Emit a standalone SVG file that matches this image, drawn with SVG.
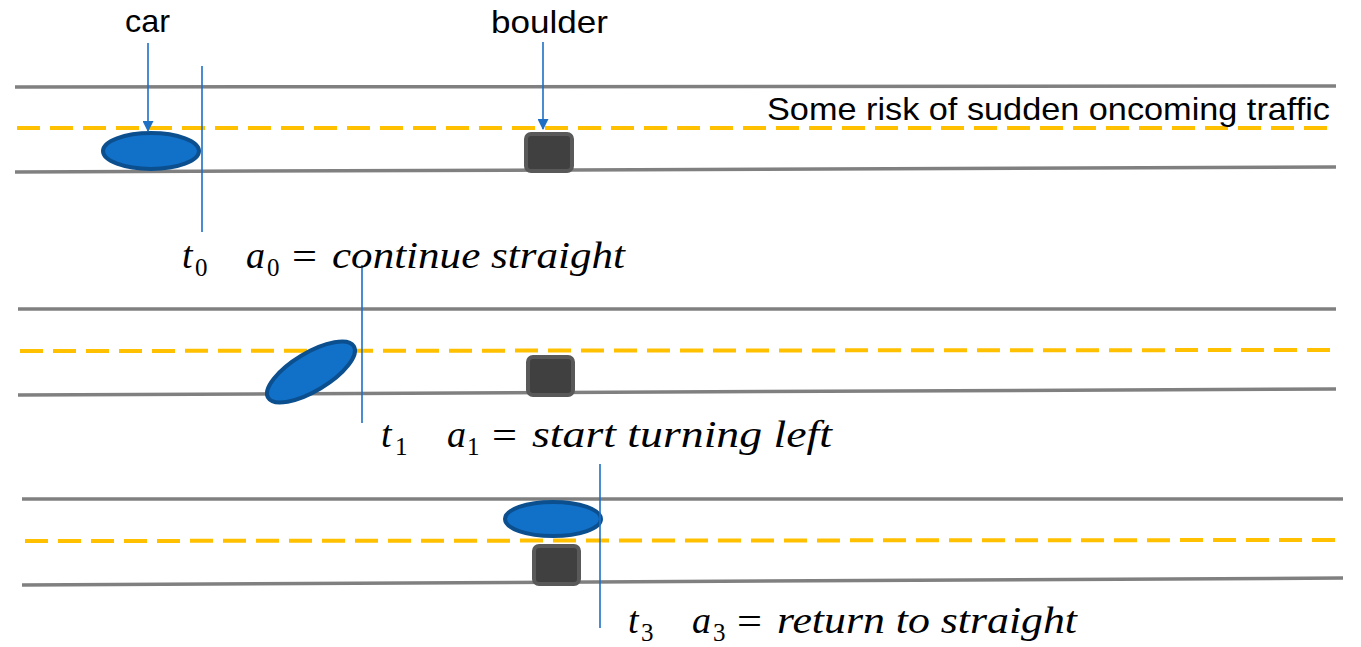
<svg xmlns="http://www.w3.org/2000/svg" width="1361" height="647" viewBox="0 0 1361 647">
<style>
.road{stroke:#808080;stroke-width:3.5;fill:none}
.lane{stroke:#FFC000;stroke-width:4;stroke-dasharray:23 10;fill:none}
.car{fill:#1170C8;stroke:#0B4F8F;stroke-width:4}
.boulder{fill:#404040;stroke:#595959;stroke-width:4}
.tline{stroke:#1F6FC4;stroke-width:1.6;fill:none}
.arrow{stroke:#1F6FC4;stroke-width:1.6;fill:none;marker-end:url(#ah)}
.lbl{font-family:"Liberation Sans","Open Sans",sans-serif;font-size:32px;fill:#000}
.mi{font-family:"Liberation Serif","DejaVu Serif",serif;font-style:italic;font-size:38px;fill:#000}
.sub{font-family:"Liberation Serif","DejaVu Serif",serif;font-size:25px;fill:#000}
.eq{font-family:"Liberation Serif","DejaVu Serif",serif;font-size:38px;fill:#000}
</style>
<defs>
<marker id="ah" markerWidth="11" markerHeight="11" refX="10" refY="5.5" orient="auto" markerUnits="userSpaceOnUse">
<path d="M0,0 L11,5.5 L0,11 z" fill="#1F6FC4"/>
</marker>
</defs>

<g id="road1">
<line class="road" x1="15" y1="87" x2="1336" y2="86"/>
<line class="road" x1="15" y1="172" x2="1336" y2="167"/>
<line class="lane" x1="17" y1="128" x2="1328" y2="128"/>
</g>
<g id="road2">
<line class="road" x1="18" y1="309" x2="1336" y2="309"/>
<line class="road" x1="18" y1="395" x2="1336" y2="389"/>
<line class="lane" x1="20" y1="351" x2="1330" y2="350"/>
</g>
<g id="road3">
<line class="road" x1="22" y1="499" x2="1343" y2="499"/>
<line class="road" x1="22" y1="585" x2="1343" y2="578"/>
<line class="lane" x1="25" y1="541" x2="1343" y2="540"/>
</g>

<g id="car1"><ellipse class="car" cx="151" cy="151" rx="48" ry="18"/></g>
<g id="boulder1"><rect class="boulder" x="526" y="134" width="46" height="37" rx="5"/></g>
<g id="car2"><ellipse class="car" cx="311" cy="372" rx="50" ry="19" transform="rotate(-31 311 372)"/></g>
<g id="boulder2"><rect class="boulder" x="528" y="357" width="45" height="38" rx="5"/></g>
<g id="car3"><ellipse class="car" cx="553" cy="519" rx="48" ry="17"/></g>
<g id="boulder3"><rect class="boulder" x="534" y="546" width="45" height="38" rx="5"/></g>

<g id="labels">
<text class="lbl" x="125" y="32" textLength="45" lengthAdjust="spacingAndGlyphs">car</text>
<text class="lbl" x="491" y="33" textLength="117" lengthAdjust="spacingAndGlyphs">boulder</text>
<text class="lbl" x="767" y="120" textLength="563" lengthAdjust="spacingAndGlyphs">Some risk of sudden oncoming traffic</text>
</g>

<g id="connectors">
<line class="arrow" x1="148" y1="43" x2="148" y2="131"/>
<line class="arrow" x1="543" y1="42" x2="543" y2="129"/>
<line class="tline" x1="202" y1="66" x2="202" y2="232"/>
<line class="tline" x1="362" y1="265" x2="362" y2="423"/>
<line class="tline" x1="600" y1="464" x2="600" y2="628"/>
</g>

<g id="math0">
<text class="mi" x="182" y="268">t</text>
<text class="sub" x="195" y="276">0</text>
<text class="mi" x="246" y="268">a</text>
<text class="sub" x="267" y="276">0</text>
<text class="eq" x="292" y="269" textLength="25" lengthAdjust="spacingAndGlyphs">=</text>
<text class="mi" x="332" y="268" textLength="293" lengthAdjust="spacingAndGlyphs">continue straight</text>
</g>
<g id="math1">
<text class="mi" x="381" y="447">t</text>
<text class="sub" x="395" y="455">1</text>
<text class="mi" x="447" y="447">a</text>
<text class="sub" x="467" y="455">1</text>
<text class="eq" x="492" y="448" textLength="25" lengthAdjust="spacingAndGlyphs">=</text>
<text class="mi" x="532" y="447" textLength="300" lengthAdjust="spacingAndGlyphs">start turning left</text>
</g>
<g id="math3">
<text class="mi" x="628" y="633">t</text>
<text class="sub" x="641" y="641">3</text>
<text class="mi" x="692" y="633">a</text>
<text class="sub" x="713" y="641">3</text>
<text class="eq" x="737" y="634" textLength="25" lengthAdjust="spacingAndGlyphs">=</text>
<text class="mi" x="777" y="633" textLength="300" lengthAdjust="spacingAndGlyphs">return to straight</text>
</g>
</svg>
